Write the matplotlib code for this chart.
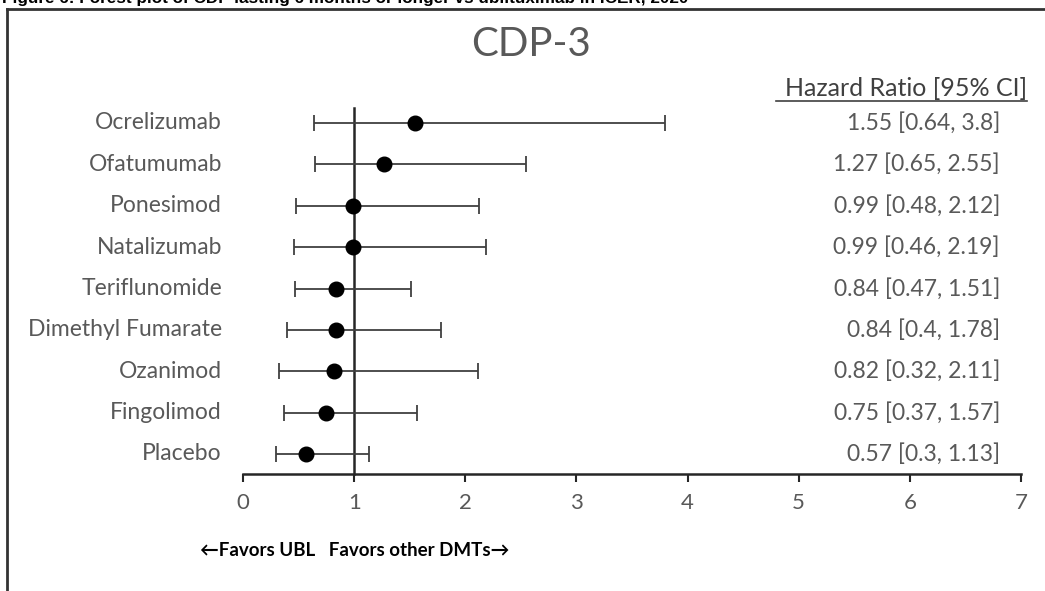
import matplotlib.pyplot as plt
from matplotlib.lines import Line2D

# données (du haut vers le bas)
treatments = ['Ocrelizumab', 'Ofatumumab', 'Ponesimod', 'Natalizumab', 'Teriflunomide',
              'Dimethyl Fumarate', 'Ozanimod', 'Fingolimod', 'Placebo']
hr = [1.55, 1.27, 0.99, 0.99, 0.84, 0.84, 0.82, 0.75, 0.57]
ci_low = [0.64, 0.65, 0.48, 0.46, 0.47, 0.4, 0.32, 0.37, 0.3]
ci_high = [3.8, 2.55, 2.12, 2.19, 1.51, 1.78, 2.11, 1.57, 1.13]
hr_labels = ['1.55 [0.64, 3.8]', '1.27 [0.65, 2.55]', '0.99 [0.48, 2.12]', '0.99 [0.46, 2.19]',
             '0.84 [0.47, 1.51]', '0.84 [0.4, 1.78]', '0.82 [0.32, 2.11]', '0.75 [0.37, 1.57]',
             '0.57 [0.3, 1.13]']
xticks = [0, 1, 2, 3, 4, 5, 6, 7]

plt.rcParams['font.family'] = ['Lato', 'DejaVu Sans']

W, H = 1045, 591
fig = plt.figure(figsize=(W / 100, H / 100), dpi=100)

# axes placé en pixels
left, right, bottom, top = 243, 1021, 474, 100
ax = fig.add_axes([left / W, 1 - bottom / H, (right - left) / W, (bottom - top) / H])

n = len(treatments)
ypos = [n - 1 - i for i in range(n)]
step = (454 - 123) / (n - 1)
ymin = -(474 - 454) / step
ymax = (n - 1) + (123 - 100) / step
ax.set_xlim(0, 7)
ax.set_ylim(ymin, ymax)

grey = '#595959'
# ligne de référence à 1
ax.plot([1, 1], [ymin, (n - 1) + 15 / step], color='#262626', lw=1.8, zorder=2, clip_on=False)

xerr = [[h - l for h, l in zip(hr, ci_low)], [u - h for h, u in zip(hr, ci_high)]]
ax.errorbar(hr, ypos, xerr=xerr, fmt='o', color='black', ms=10.5,
            ecolor='#404040', elinewidth=1.3, capsize=6, capthick=1.3, zorder=3)

for s in ['top', 'right', 'left']:
    ax.spines[s].set_visible(False)
ax.spines['bottom'].set_linewidth(1.8)
ax.spines['bottom'].set_color('#262626')
ax.set_yticks([])
ax.set_xticks(xticks)
ax.tick_params(axis='x', direction='out', length=6, width=1.5, color='#262626',
               labelsize=16, labelcolor=grey, pad=8)

for y, name, lab in zip(ypos, treatments, hr_labels):
    ax.text(-0.19, y, name, ha='right', va='center', fontsize=16.5, color=grey)
    ax.text(6.81, y, lab, ha='right', va='center', fontsize=16.5, color=grey)

fig.text(1027 / W, 1 - 89 / H, 'Hazard Ratio [95% CI]', ha='right', va='center',
         fontsize=18, color='#404040')
fig.add_artist(Line2D([776 / W, 1027 / W], [1 - 101 / H, 1 - 101 / H], color='#404040', lw=1.2))

fig.text(531 / W, 1 - 44 / H, 'CDP-3', ha='center', va='center', fontsize=29, color=grey)

fig.text(200 / W, 1 - 551 / H, '←Favors UBL   Favors other DMTs→', ha='left', va='center',
         fontsize=13.5, fontweight='bold', color='black')

# légende coupée en haut et cadre
fig.text(2 / W, 1 - 3 / H, 'Figure 6: Forest plot of CDP lasting 6 months or longer vs ublituximab in ICER, 2020',
         ha='left', va='baseline', fontsize=12.3, fontweight='bold', family='Liberation Sans')
fig.add_artist(Line2D([7 / W, 7 / W], [0, 1 - 9 / H], color='#333333', lw=2))
fig.add_artist(Line2D([7 / W, 1], [1 - 9 / H, 1 - 9 / H], color='#333333', lw=2))

fig.savefig('out.png', dpi=100, facecolor='white')
